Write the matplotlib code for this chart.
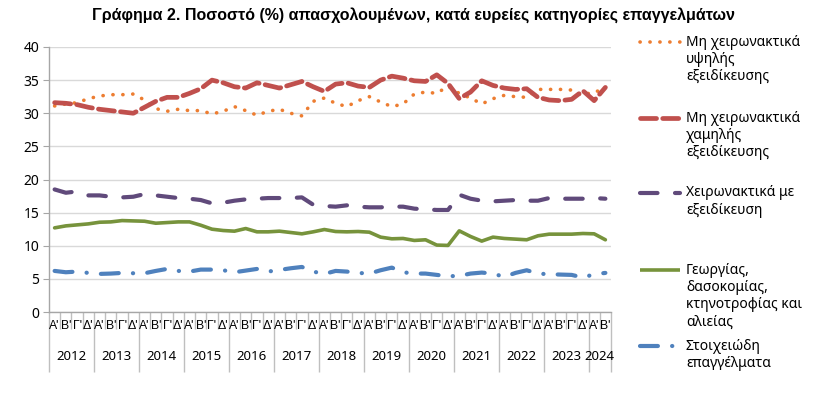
import matplotlib
matplotlib.use('Agg')
import matplotlib.pyplot as plt
import matplotlib.transforms as mtransforms
from matplotlib.lines import Line2D
import numpy as np

# ---------------- data ----------------
years = ['2012', '2013', '2014', '2015', '2016', '2017', '2018', '2019',
         '2020', '2021', '2022', '2023', '2024']
quarters = ["Α'", "Β'", "Γ'", "Δ'"]
n_quarters_last_year = 2

high_skill_nonmanual = [31.1, 31.4, 31.6, 32.2, 32.6, 32.8, 32.8, 32.9, 32.0, 30.7,
                        30.3, 30.6, 30.4, 30.4, 29.9, 30.3, 31.0, 30.4, 29.7, 30.3,
                        30.6, 30.0, 29.6, 31.8, 32.3, 31.5, 31.0, 31.9, 32.5, 31.7,
                        31.0, 31.4, 32.9, 33.2, 33.0, 34.1, 33.0, 32.3, 31.4, 32.2,
                        32.7, 32.5, 32.4, 33.6, 33.6, 33.6, 33.5, 32.6, 33.4, 33.2]

low_skill_nonmanual = [31.6, 31.5, 31.3, 30.9, 30.6, 30.4, 30.2, 30.0, 30.9, 31.8,
                       32.4, 32.4, 33.0, 33.7, 35.0, 34.6, 34.0, 33.8, 34.6, 34.2,
                       33.8, 34.3, 34.8, 34.0, 33.3, 34.4, 34.6, 34.1, 33.9, 35.0,
                       35.6, 35.3, 34.9, 34.8, 35.8, 34.5, 32.2, 33.2, 34.9, 34.2,
                       33.8, 33.6, 33.7, 32.4, 32.0, 31.9, 32.1, 33.4, 31.9, 33.9]

skilled_manual = [18.5, 18.0, 18.2, 17.6, 17.6, 17.4, 17.3, 17.4, 17.8, 17.6,
                  17.4, 17.2, 17.1, 16.9, 16.4, 16.5, 16.8, 17.0, 17.1, 17.2,
                  17.2, 17.2, 17.3, 16.2, 16.0, 15.9, 16.1, 15.9, 15.8, 15.8,
                  15.9, 15.9, 15.6, 15.5, 15.4, 15.4, 17.7, 17.1, 16.8, 16.7,
                  16.8, 16.9, 16.8, 16.8, 17.2, 17.1, 17.1, 17.1, 17.2, 17.1]

agriculture = [12.7, 13.0, 13.15, 13.3, 13.55, 13.6, 13.8, 13.75, 13.7, 13.4,
               13.5, 13.6, 13.6, 13.1, 12.5, 12.3, 12.2, 12.6, 12.1, 12.1,
               12.2, 12.0, 11.8, 12.1, 12.45, 12.15, 12.1, 12.15, 12.05, 11.3,
               11.05, 11.1, 10.8, 10.9, 10.1, 10.05, 12.25, 11.4, 10.7, 11.3,
               11.1, 11.0, 10.9, 11.5, 11.75, 11.75, 11.75, 11.85, 11.8, 10.9]

elementary = [6.2, 6.0, 6.1, 5.9, 5.75, 5.8, 5.9, 5.85, 5.85, 6.2,
              6.5, 6.2, 6.1, 6.4, 6.4, 6.3, 6.0, 6.25, 6.5, 6.1,
              6.35, 6.6, 6.8, 6.1, 5.75, 6.2, 6.1, 5.9, 5.8, 6.3,
              6.7, 6.0, 5.8, 5.8, 5.6, 5.4, 5.45, 5.8, 5.95, 5.8,
              5.3, 5.9, 6.3, 5.8, 5.7, 5.65, 5.6, 5.2, 5.7, 5.9]

series_labels = ['Μη χειρωνακτικά\nυψηλής\nεξειδίκευσης',
                 'Μη χειρωνακτικά\nχαμηλής\nεξειδίκευσης',
                 'Χειρωνακτικά με\nεξειδίκευση',
                 'Γεωργίας,\nδασοκομίας,\nκτηνοτροφίας και\nαλιείας',
                 'Στοιχειώδη\nεπαγγέλματα']

title = 'Γράφημα 2. Ποσοστό (%) απασχολουμένων, κατά ευρείες κατηγορίες επαγγελμάτων'

# ---------------- styling ----------------
BASE = ['Noto Sans', 'DejaVu Sans']
NARROW = ['Liberation Sans Narrow', 'Liberation Sans', 'DejaVu Sans']
plt.rcParams['font.family'] = BASE

styles = [
    dict(color='#ED7D31', lw=2.6, ls=(0, (0.05, 2.7)), dash_capstyle='round', solid_capstyle='round'),
    dict(color='#C0504D', lw=3.4, ls=(0, (3.4, 1.3)), dash_capstyle='round'),
    dict(color='#604A7B', lw=3.0, ls=(0, (4.2, 4.2)), dash_capstyle='round'),
    dict(color='#77933C', lw=2.6, ls='-', solid_capstyle='round'),
    dict(color='#4F81BD', lw=3.0, ls=(0, (4.3, 3.4, 0.05, 3.4)), dash_capstyle='round'),
]
data = [high_skill_nonmanual, low_skill_nonmanual, skilled_manual, agriculture, elementary]

W, H = 827, 401
fig = plt.figure(figsize=(W / 100, H / 100), dpi=100)
ax = fig.add_axes([49 / W, 1 - 312 / H, (611 - 49) / W, (312 - 47) / H])

n = len(high_skill_nonmanual)
x = np.arange(n)
for vals, st in zip(data, styles):
    ax.plot(x, vals, color=st['color'], lw=st['lw'], linestyle=st['ls'],
            dash_capstyle=st.get('dash_capstyle', 'butt'),
            solid_capstyle=st.get('solid_capstyle', 'butt'),
            solid_joinstyle='round', dash_joinstyle='round', zorder=3)

ax.set_xlim(-0.5, n - 0.5)
ax.set_ylim(0, 40)
ax.set_yticks(np.arange(0, 41, 5))
ax.yaxis.grid(True, color='#d9d9d9', lw=1.0)
ax.set_axisbelow(True)
for s in ['top', 'right']:
    ax.spines[s].set_visible(False)
for s in ['left', 'bottom']:
    ax.spines[s].set_color('#a6a6a6')
    ax.spines[s].set_linewidth(1.0)
ax.tick_params(axis='y', length=4, color='#a6a6a6', labelsize=10, labelcolor='#000000', pad=3)

# category separators (minor = quarter boundaries, major = year boundaries)
year_bounds = [4 * k - 0.5 for k in range(len(years))] + [n - 0.5]
quarter_bounds = [b - 0.5 for b in range(n + 1)]
ax.set_xticks(year_bounds)
ax.set_xticklabels([])
ax.set_xticks(quarter_bounds, minor=True)
ax.tick_params(axis='x', which='major', length=43, color='#bfbfbf', width=1)
ax.tick_params(axis='x', which='minor', length=12.5, color='#bfbfbf', width=1)

trans = mtransforms.blended_transform_factory(ax.transData, ax.transAxes)
for i in range(n):
    ax.text(i, -0.052, quarters[i % 4], transform=trans, ha='center', va='center',
            fontsize=8.8, family=NARROW, color='#000000')
for k, yr in enumerate(years):
    start = 4 * k
    end = min(4 * k + 3, n - 1)
    ax.text((start + end) / 2, -0.168, yr, transform=trans, ha='center', va='center',
            fontsize=9.5, color='#000000')

# title
fig.text(414 / W, 1 - 15 / H, title, ha='center', va='center', fontsize=11.5,
         fontweight='bold', family=NARROW)

# legend (manual, top-aligned handles)
leg_first_y = [42, 118, 193, 270, 346]
line_h = 17.5
for lab, st, y0 in zip(series_labels, styles, leg_first_y):
    yf = 1 - y0 / H
    fig.add_artist(Line2D([640 / W, 680 / W], [yf, yf], color=st['color'], lw=st['lw'],
                          linestyle=st['ls'], dash_capstyle=st.get('dash_capstyle', 'butt'),
                          solid_capstyle='butt'))
    for j, ln in enumerate(lab.split('\n')):
        fig.text(686 / W, 1 - (y0 + j * line_h) / H, ln, ha='left', va='center',
                 fontsize=10, color='#000000')

fig.savefig('out.png', dpi=100)
